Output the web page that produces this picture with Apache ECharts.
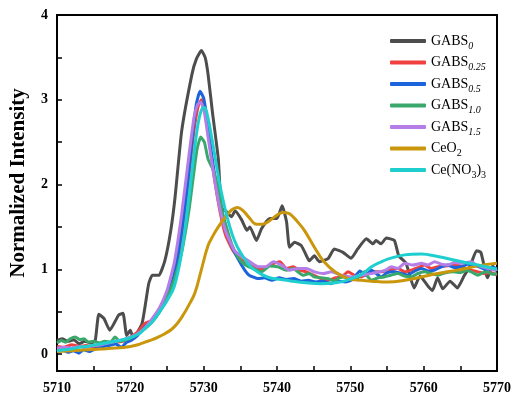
<!DOCTYPE html>
<html>
<head>
<meta charset="utf-8">
<script src="https://cdn.jsdelivr.net/npm/echarts@6/dist/echarts.min.js"></script>
<style>
  html, body { margin: 0; padding: 0; background: #fff; }
  #main { width: 518px; height: 397px; }
</style>
</head>
<body>
<div id="main"></div>
<script>
// XANES Ce L3-edge, values as [energy, intensity]
const gabs0 = [[5710,0.16],[5710.7,0.18],[5711.5,0.15],[5712.3,0.17],[5713,0.12],[5713.8,0.15],[5714.6,0.13],[5715.2,0.15],[5715.7,0.47],[5716.4,0.42],[5717.2,0.28],[5718.4,0.46],[5719,0.48],[5719.5,0.22],[5720,0.28],[5720.4,0.19],[5721.6,0.36],[5722.5,0.83],[5723,0.93],[5723.9,0.93],[5724.7,1.1],[5725.5,1.45],[5726.1,1.85],[5727,2.63],[5728.4,3.3],[5729,3.48],[5729.7,3.58],[5730.2,3.5],[5730.6,3.3],[5731.2,2.85],[5732,2.3],[5732.4,1.73],[5733.1,1.68],[5733.8,1.62],[5734.3,1.69],[5735.2,1.58],[5735.9,1.46],[5736.3,1.5],[5737.2,1.34],[5737.9,1.48],[5739,1.6],[5740,1.6],[5740.7,1.75],[5741.3,1.56],[5741.7,1.26],[5742.4,1.32],[5743.3,1.28],[5743.8,1.2],[5744.4,1.1],[5745.1,1.16],[5745.8,1.09],[5747,1.13],[5747.8,1.24],[5749,1.2],[5750.1,1.13],[5751,1.24],[5752.2,1.36],[5753.1,1.3],[5753.5,1.34],[5754.2,1.3],[5754.9,1.37],[5756,1.34],[5756.6,1.16],[5757.6,1.07],[5758.7,0.78],[5759.5,0.92],[5760.6,0.8],[5761.2,0.75],[5761.9,0.9],[5762.6,0.77],[5763.6,0.86],[5764.6,0.78],[5765.5,0.92],[5766.4,1.05],[5767.2,1.22],[5767.8,1.2],[5768.7,0.9],[5769.4,1.04],[5770,0.98]];
const gabs025 = [[5710,0.09],[5711,0.08],[5712,0.11],[5713,0.09],[5714,0.1],[5715,0.08],[5716,0.11],[5717,0.12],[5718,0.14],[5719,0.15],[5720,0.2],[5721,0.26],[5722,0.36],[5723,0.4],[5724,0.52],[5725,0.68],[5726,0.92],[5727,1.4],[5728,2.1],[5728.7,2.65],[5729.3,2.94],[5729.7,3.0],[5730.2,2.9],[5730.8,2.5],[5731.5,2.05],[5732.3,1.65],[5733,1.4],[5734,1.22],[5735,1.12],[5736,1.06],[5737,1.02],[5738,1.0],[5739,1.05],[5740.4,1.09],[5741.3,1.01],[5742.2,1.03],[5743,0.99],[5744,0.97],[5745,0.93],[5746,0.89],[5747,0.87],[5748,0.9],[5748.8,0.91],[5749.7,0.97],[5750.5,0.93],[5751.5,0.91],[5752.3,0.95],[5752.9,0.97],[5754.2,0.97],[5755.3,0.99],[5756.5,1.01],[5757.4,0.97],[5758.3,0.99],[5759.2,1.02],[5760.1,1.05],[5761,1.01],[5761.9,1.03],[5763,1.04],[5764.6,1.05],[5765.5,1.02],[5766.5,0.99],[5767.4,0.97],[5768.3,0.95],[5769.2,0.96],[5770,0.93]];
const gabs05 = [[5710,0.03],[5710.8,0.05],[5711.5,0.02],[5712.2,0.04],[5713,0.01],[5713.6,0.05],[5714.4,0.03],[5715.2,0.06],[5716,0.08],[5717,0.1],[5718,0.12],[5718.8,0.08],[5719.5,0.14],[5720.1,0.16],[5721,0.22],[5722,0.32],[5723,0.4],[5724,0.5],[5725,0.68],[5726,0.95],[5727,1.45],[5727.8,2.0],[5728.5,2.6],[5729,2.95],[5729.5,3.1],[5730,3.02],[5730.5,2.75],[5731.1,2.35],[5731.8,1.95],[5732.4,1.7],[5733.1,1.45],[5733.8,1.28],[5734.7,1.12],[5735.6,0.99],[5736.2,0.93],[5737.4,0.89],[5738.3,0.9],[5739.3,0.87],[5740.3,0.9],[5741.3,0.88],[5742.3,0.89],[5743.3,0.86],[5744.3,0.87],[5745.3,0.85],[5746.3,0.86],[5747.3,0.83],[5748.3,0.86],[5749.3,0.85],[5750.3,0.88],[5751.3,0.98],[5752.1,0.93],[5752.9,0.99],[5754.2,0.91],[5755,0.96],[5756,0.97],[5757,0.95],[5757.8,0.93],[5758.8,0.98],[5759.7,1.01],[5760.6,0.98],[5761.5,0.99],[5762.4,1.03],[5763.3,1.05],[5764.2,1.02],[5765.1,1.03],[5766,1.06],[5766.9,1.05],[5767.8,1.02],[5768.7,0.99],[5769.4,1.02],[5770,1.01]];
const gabs10 = [[5710,0.13],[5710.6,0.16],[5711.2,0.14],[5711.8,0.18],[5712.5,0.2],[5713.1,0.17],[5713.7,0.18],[5714.3,0.14],[5715,0.15],[5715.8,0.13],[5716.5,0.15],[5717.3,0.14],[5717.9,0.2],[5718.6,0.15],[5719.5,0.17],[5720.3,0.2],[5721.2,0.25],[5722,0.3],[5723,0.38],[5724,0.5],[5725,0.66],[5726,0.88],[5727,1.2],[5728,1.7],[5728.6,2.1],[5729.1,2.42],[5729.6,2.56],[5730.1,2.5],[5730.6,2.3],[5731.3,2.17],[5732,1.95],[5732.5,1.7],[5733.1,1.5],[5733.9,1.28],[5734.7,1.14],[5735.4,1.07],[5736.1,1.03],[5737,1.0],[5737.9,0.97],[5739,1.04],[5740.1,1.03],[5741.3,0.99],[5742.2,1.01],[5743,0.96],[5743.6,0.93],[5744.4,0.95],[5745.1,0.91],[5746,0.9],[5747,0.89],[5747.8,0.86],[5748.5,0.9],[5749.1,0.91],[5750,0.88],[5750.9,0.89],[5751.9,0.97],[5752.5,0.9],[5752.9,0.87],[5753.8,0.9],[5754.6,0.91],[5755.5,0.93],[5756.5,0.95],[5757.4,0.92],[5758.3,0.91],[5759.2,0.95],[5760.1,0.97],[5761,0.95],[5761.9,0.93],[5763,0.96],[5764.1,0.97],[5765,0.96],[5765.9,0.99],[5766.7,0.96],[5767.4,0.93],[5768.1,0.96],[5768.7,0.97],[5769.4,0.94],[5770,0.95]];
const gabs15 = [[5710,0.07],[5711,0.08],[5712,0.07],[5713,0.09],[5714,0.08],[5715,0.1],[5716,0.11],[5717,0.13],[5718,0.15],[5719,0.17],[5720,0.2],[5721,0.24],[5722,0.31],[5723,0.42],[5724,0.55],[5725,0.75],[5726,1.08],[5727,1.65],[5728,2.35],[5728.7,2.8],[5729.2,2.95],[5729.6,2.97],[5730.1,2.85],[5730.7,2.5],[5731.4,2.1],[5732.2,1.72],[5733,1.45],[5734.2,1.22],[5735.2,1.15],[5736.1,1.1],[5737.4,1.03],[5738.5,1.03],[5739.5,1.09],[5740.6,1.05],[5741.7,0.99],[5742.9,1.01],[5744,1.01],[5745.1,0.97],[5746.3,0.95],[5747.4,0.97],[5748.8,0.93],[5750.1,0.91],[5751.5,0.93],[5752.9,0.95],[5754,0.97],[5754.8,0.99],[5755.6,1.03],[5756.5,1.01],[5757.4,1.07],[5758.5,1.05],[5759.7,1.07],[5760.6,1.05],[5761.5,1.09],[5762.4,1.06],[5763.3,1.05],[5764.2,1.08],[5765.1,1.07],[5766.5,1.09],[5767.2,1.05],[5767.9,1.03],[5768.8,1.01],[5769.6,0.99],[5770,1.0]];
const ceo2 = [[5710,0.03],[5712,0.04],[5714,0.05],[5716,0.06],[5718,0.07],[5720,0.09],[5721,0.11],[5722,0.14],[5723,0.17],[5723.8,0.2],[5724.7,0.24],[5725.6,0.29],[5726.4,0.36],[5727.2,0.46],[5728,0.58],[5728.8,0.72],[5729.7,1.0],[5730.6,1.28],[5731.3,1.4],[5732,1.5],[5733,1.62],[5733.8,1.7],[5734.6,1.73],[5735.4,1.69],[5736.2,1.61],[5737.2,1.53],[5738,1.53],[5738.8,1.56],[5739.7,1.62],[5740.8,1.67],[5741.6,1.66],[5742.3,1.61],[5743.1,1.53],[5743.8,1.45],[5745.1,1.26],[5746.3,1.1],[5747.9,0.97],[5749.7,0.89],[5751.5,0.87],[5752.9,0.86],[5755.1,0.85],[5757.4,0.87],[5759.7,0.91],[5761.9,0.95],[5764.6,0.99],[5767.4,1.04],[5770,1.07]];
const ceNO3 = [[5710,0.04],[5711,0.05],[5712,0.06],[5713,0.08],[5714,0.09],[5716,0.12],[5718,0.15],[5719.5,0.18],[5721,0.23],[5722,0.3],[5723,0.38],[5724,0.5],[5725,0.63],[5726,0.8],[5727,1.2],[5728,1.85],[5728.6,2.3],[5729.2,2.7],[5729.7,2.88],[5730.1,2.91],[5730.6,2.78],[5731,2.6],[5731.5,2.35],[5732.2,2.0],[5732.9,1.72],[5733.5,1.52],[5734.2,1.34],[5735,1.2],[5736.1,1.06],[5737,0.99],[5737.9,0.94],[5739,0.9],[5740.5,0.88],[5742,0.86],[5744,0.84],[5746,0.83],[5748,0.84],[5749.5,0.87],[5751.5,0.94],[5752.9,1.03],[5754,1.08],[5755.1,1.12],[5757.4,1.17],[5759.7,1.18],[5761.9,1.15],[5764.6,1.1],[5767.4,1.05],[5770,1.0]];

const names = ['GABS0', 'GABS0.25', 'GABS0.5', 'GABS1.0', 'GABS1.5', 'CeO2', 'Ce(NO3)3'];
const labels = {
  'GABS0': '{m|GABS}{i|0}',
  'GABS0.25': '{m|GABS}{i|0.25}',
  'GABS0.5': '{m|GABS}{i|0.5}',
  'GABS1.0': '{m|GABS}{i|1.0}',
  'GABS1.5': '{m|GABS}{i|1.5}',
  'CeO2': '{m|CeO}{s|2}',
  'Ce(NO3)3': '{m|Ce(NO}{s|3}{m|)}{s|3}'
};
const colors = ['#4d4d4d', '#f0413f', '#1c64dc', '#3aa86a', '#b47ee6', '#c9960c', '#1fcfcf'];
const seriesData = [gabs0, gabs025, gabs05, gabs10, gabs15, ceo2, ceNO3];

const font = '"Liberation Serif", "Times New Roman", serif';
const chart = echarts.init(document.getElementById('main'));
chart.setOption({
  animation: false,
  grid: { left: 55, right: 21, top: 15, bottom: 26, show: true, borderColor: '#000', borderWidth: 2 },
  legend: {
    data: names,
    orient: 'vertical',
    left: 385,
    top: 29,
    icon: 'roundRect',
    itemWidth: 36,
    itemHeight: 4,
    itemGap: 4.5,
    formatter: n => labels[n],
    textStyle: {
      fontFamily: font,
      rich: {
        m: { fontSize: 14, lineHeight: 20, color: '#000', fontFamily: font },
        i: { fontSize: 10, lineHeight: 10, fontStyle: 'italic', verticalAlign: 'bottom', color: '#000', fontFamily: font },
        s: { fontSize: 10, lineHeight: 10, verticalAlign: 'bottom', color: '#000', fontFamily: font }
      }
    }
  },
  xAxis: {
    type: 'value',
    min: 5710,
    max: 5770,
    interval: 5,
    axisLine: { onZero: false, lineStyle: { color: '#000', width: 2 } },
    axisTick: { inside: true, length: 5, lineStyle: { width: 1.5 } },
    axisLabel: {
      color: '#000', fontFamily: font, fontWeight: 'bold', fontSize: 14, margin: 10,
      formatter: v => (v % 10 === 0 ? String(v) : '')
    },
    splitLine: { show: false }
  },
  yAxis: {
    type: 'value',
    min: -0.2,
    max: 4,
    name: 'Normalized Intensity',
    nameLocation: 'middle',
    nameGap: 28,
    nameTextStyle: { color: '#000', fontFamily: font, fontWeight: 'bold', fontSize: 21, padding: [0, 0, 0, 20] },
    axisLine: { onZero: false, lineStyle: { color: '#000', width: 2 } },
    axisTick: { inside: true, length: 5, lineStyle: { width: 1.5 }, customValues: [0, 0.5, 1, 1.5, 2, 2.5, 3, 3.5, 4] },
    axisLabel: {
      color: '#000', fontFamily: font, fontWeight: 'bold', fontSize: 14, margin: 9,
      customValues: [0, 1, 2, 3, 4]
    },
    splitLine: { show: false }
  },
  series: names.map((n, k) => ({
    name: n,
    type: 'line',
    data: seriesData[k],
    showSymbol: false,
    symbol: 'none',
    smooth: k >= 5 ? 0.4 : 0.15,
    color: colors[k],
    lineStyle: { width: 3, color: colors[k] },
    z: 2 + k
  }))
});
</script>
</body>
</html>
